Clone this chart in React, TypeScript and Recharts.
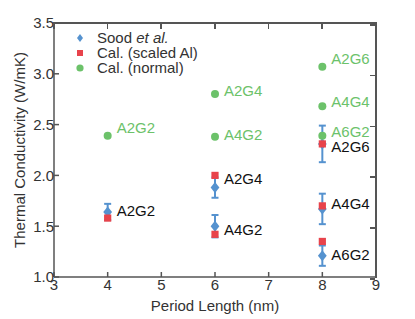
import {
  ErrorBar,
  Scatter,
  ScatterChart,
  XAxis,
  YAxis,
} from "recharts";

const BLUE = "#5592cf";
const RED = "#e8434b";
const GREEN = "#6cc26a";
const INK = "#333";
const FRAME = "#555";
const FONT = "Liberation Sans, Arial, sans-serif";

const W = 415;
const H = 319;
const M = { top: 23, right: 39, bottom: 0, left: 0 };
const Y_AXIS_W = 54;
const X_AXIS_H = 42;

const xTicks = [3, 4, 5, 6, 7, 8, 9];
const yTicks = [1.0, 1.5, 2.0, 2.5, 3.0, 3.5];

// measured data (Sood et al.) with error bars
const soodData = [
  { x: 4, y: 1.64, err: 0.08 },
  { x: 6, y: 1.88, err: 0.1 },
  { x: 6, y: 1.5, err: 0.11 },
  { x: 8, y: 2.31, err: 0.18 },
  { x: 8, y: 1.67, err: 0.15 },
  { x: 8, y: 1.21, err: 0.1 },
];

const scaledData = [
  { x: 4, y: 1.58 },
  { x: 6, y: 2.0 },
  { x: 6, y: 1.42 },
  { x: 8, y: 2.31 },
  { x: 8, y: 1.7 },
  { x: 8, y: 1.35 },
];

const normalData = [
  { x: 4, y: 2.39 },
  { x: 6, y: 2.8 },
  { x: 6, y: 2.38 },
  { x: 8, y: 3.07 },
  { x: 8, y: 2.68 },
  { x: 8, y: 2.39 },
];

// annotation anchors (data coordinates)
const normalLabels = [
  { x: 4, y: 2.47, text: "A2G2" },
  { x: 6, y: 2.84, text: "A2G4" },
  { x: 6, y: 2.4, text: "A4G2" },
  { x: 8, y: 3.15, text: "A2G6" },
  { x: 8, y: 2.73, text: "A4G4" },
  { x: 8, y: 2.43, text: "A6G2" },
];

const sampleLabels = [
  { x: 4, y: 1.65, text: "A2G2" },
  { x: 6, y: 1.97, text: "A2G4" },
  { x: 6, y: 1.47, text: "A4G2" },
  { x: 8, y: 2.28, text: "A2G6" },
  { x: 8, y: 1.72, text: "A4G4" },
  { x: 8, y: 1.22, text: "A6G2" },
];

const legendItems = [
  { name: "Sood", color: BLUE, kind: "diamond" },
  { name: "Cal. (scaled Al)", color: RED, kind: "square" },
  { name: "Cal. (normal)", color: GREEN, kind: "circle" },
];

const Diamond = (props: any) => {
  const { cx, cy } = props;
  const r = 5.5;
  return (
    <path
      d={`M${cx},${cy - r}L${cx + r * 0.8},${cy}L${cx},${cy + r}L${cx - r * 0.8},${cy}Z`}
      fill={BLUE}
    />
  );
};

const Square = (props: any) => {
  const { cx, cy } = props;
  return <rect x={cx - 3.6} y={cy - 3.6} width={7.2} height={7.2} fill={RED} />;
};

const Dot = (props: any) => {
  const { cx, cy } = props;
  return <circle cx={cx} cy={cy} r={4} fill={GREEN} />;
};

const makeLabel = (color: string) => (props: any) => {
  const { cx, cy, payload } = props;
  return (
    <text
      x={cx + 9}
      y={cy}
      dominantBaseline="central"
      fill={color}
      fontSize={15}
      fontFamily={FONT}
    >
      {payload.text}
    </text>
  );
};

// box around the plot area: top and right sides plus inward ticks
const BoxFrame = () => {
  const left = M.left + Y_AXIS_W;
  const right = W - M.right;
  const top = M.top;
  const bottom = H - M.bottom - X_AXIS_H;
  const px = (v: number) => ((v - 3) / 6) * (right - left);
  const py = (v: number) => (bottom - top) - ((v - 1) / 2.5) * (bottom - top);
  return (
    <div
      style={{
        position: "absolute",
        left: left - 1,
        top: top - 1,
        width: right - left + 2,
        height: bottom - top + 2,
        boxSizing: "border-box",
        borderTop: `2px solid ${FRAME}`,
        borderRight: `2px solid ${FRAME}`,
        zIndex: 5,
        pointerEvents: "none",
      }}
    >
      {xTicks.map((t) => (
        <div
          key={`t${t}`}
          style={{
            position: "absolute",
            left: px(t),
            top: 0,
            width: 1.5,
            height: 5,
            background: FRAME,
          }}
        />
      ))}
      {yTicks.map((t) => (
        <div
          key={`r${t}`}
          style={{
            position: "absolute",
            right: 0,
            top: py(t),
            width: 5,
            height: 1.5,
            background: FRAME,
          }}
        />
      ))}
    </div>
  );
};

const LegendBox = () => (
  <div
    style={{
      position: "absolute",
      left: 73,
      top: 30,
      fontFamily: FONT,
      fontSize: 15,
      color: INK,
      lineHeight: "15px",
      zIndex: 6,
    }}
  >
    {legendItems.map((it) => (
      <div key={it.name} style={{ display: "flex", alignItems: "center", height: 15 }}>
        <svg width={14} height={12} style={{ marginRight: 10 }}>
          {it.kind === "diamond" && <path d="M7,2L10,6L7,10L4,6Z" fill={it.color} />}
          {it.kind === "square" && <rect x={4} y={3} width={6} height={6} fill={it.color} />}
          {it.kind === "circle" && <circle cx={7} cy={6} r={3.6} fill={it.color} />}
        </svg>
        {it.kind === "diamond" ? (
          <span>
            Sood <i>et al.</i>
          </span>
        ) : (
          <span>{it.name}</span>
        )}
      </div>
    ))}
  </div>
);

export default function App() {
  const tickStyle = { fill: INK, fontSize: 15, fontFamily: FONT };
  return (
    <div style={{ position: "absolute", left: 0, top: 0, width: W, height: H, background: "#fff" }}>
      <ScatterChart width={W} height={H} margin={M} style={{ fontFamily: FONT }}>
        <XAxis
          dataKey="x"
          type="number"
          domain={[3, 9]}
          ticks={xTicks}
          height={X_AXIS_H}
          stroke={FRAME}
          strokeWidth={1.5}
          tickSize={-5}
          tickMargin={7}
          tick={tickStyle}
          label={{
            value: "Period Length (nm)",
            position: "center",
            dy: 8,
            style: { fill: INK, fontSize: 15, fontFamily: FONT },
          }}
        />
        <YAxis
          dataKey="y"
          type="number"
          domain={[1, 3.5]}
          ticks={yTicks}
          width={Y_AXIS_W}
          stroke={FRAME}
          strokeWidth={1.5}
          tickSize={-5}
          tickMargin={5}
          tick={tickStyle}
          tickFormatter={(v: number) => v.toFixed(1)}
          label={{
            value: "Thermal Conductivity (W/mK)",
            angle: -90,
            position: "center",
            dx: -7,
            style: { fill: INK, fontSize: 15, fontFamily: FONT },
          }}
        />
        <Scatter
          name="Sood et al."
          data={soodData}
          shape={Diamond}
          isAnimationActive={false}
        >
          <ErrorBar
            dataKey="err"
            direction="y"
            width={3.5}
            stroke={BLUE}
            strokeWidth={2}
            isAnimationActive={false}
          />
        </Scatter>
        <Scatter
          name="Cal. (scaled Al)"
          data={scaledData}
          shape={Square}
          isAnimationActive={false}
        />
        <Scatter
          name="Cal. (normal)"
          data={normalData}
          shape={Dot}
          isAnimationActive={false}
        />
        <Scatter
          name="normal labels"
          data={normalLabels}
          shape={makeLabel(GREEN)}
          legendType="none"
          isAnimationActive={false}
        />
        <Scatter
          name="sample labels"
          data={sampleLabels}
          shape={makeLabel("#111")}
          legendType="none"
          isAnimationActive={false}
        />
      </ScatterChart>
      <BoxFrame />
      <LegendBox />
    </div>
  );
}
